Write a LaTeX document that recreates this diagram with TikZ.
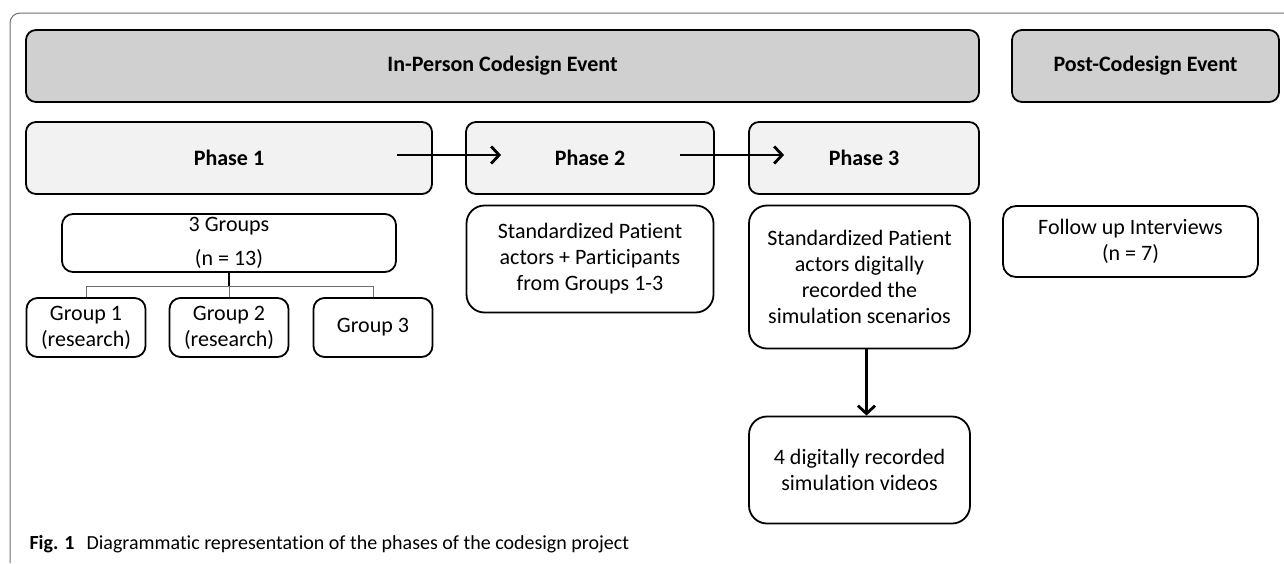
\documentclass[tikz,border=0pt]{standalone}
\usepackage{fontspec}
\setmainfont[Ligatures=NoCommon]{Carlito}
\usepackage{tikz}
\usetikzlibrary{shapes,arrows,arrows.meta,positioning}
\definecolor{eventgrey}{RGB}{208,208,208}
\definecolor{phasegrey}{RGB}{242,242,242}
\definecolor{framegrey}{RGB}{110,110,110}

\begin{document}
\begin{tikzpicture}[x=1pt, y=1pt, >={Straight Barb[length=8pt,width=17pt]},
  font=\fontsize{22}{26}\selectfont,
  eventbox/.style={rectangle, rounded corners=10pt, draw, line width=1.8pt, fill=eventgrey, minimum height=72pt, inner sep=0pt, font=\fontsize{22}{26}\selectfont\bfseries},
  phasebox/.style={rectangle, rounded corners=10pt, draw, line width=1.8pt, fill=phasegrey, minimum height=72pt, inner sep=0pt, font=\fontsize{22}{26}\selectfont\bfseries},
  infobox/.style={rectangle, rounded corners=18pt, draw, line width=1.8pt, fill=white, align=center, inner sep=0pt, minimum width=221pt},
  groupbox/.style={rectangle, rounded corners=11pt, draw, line width=1.8pt, fill=white, align=center, inner sep=0pt, minimum width=119pt, minimum height=59pt}]
\useasboundingbox (0,0) rectangle (1284,-563);
\draw[framegrey, line width=1pt, rounded corners=10pt] (10,-563) -- (10,-13) -- (1284,-13);

% events
\node (inperson) [eventbox, minimum width=953pt] at (502.5,-66) {In-Person Codesign Event};
\node (post) [eventbox, minimum width=267pt, right of=inperson, node distance=643pt] {Post-Codesign Event};

% phases
\node (phase1) [phasebox, minimum width=406pt] at (229,-158) {Phase 1};
\node (phase2) [phasebox, minimum width=248pt, right of=phase1, node distance=361pt] {Phase 2};
\node (phase3) [phasebox, minimum width=230pt, right of=phase2, node distance=274pt] {Phase 3};

% phase 1 groups
\node (groups) [groupbox, minimum width=334pt, minimum height=58pt, below of=phase1, node distance=85pt] {3 Groups\\[8pt](n = 13)};
\node (g2) [groupbox, below of=groups, node distance=84.5pt] {Group 2\\(research)};
\node (g1) [groupbox, left of=g2, node distance=143pt] {Group 1\\(research)};
\node (g3) [groupbox, right of=g2, node distance=144pt] {Group 3};

% phase 2 and 3 details
\node (p2detail) [infobox, minimum width=247pt, minimum height=107pt, below of=phase2, node distance=101pt] {Standardized Patient\\actors + Participants\\from Groups 1-3};
\node (p3detail) [infobox, minimum height=143pt, below of=phase3, node distance=119pt, xshift=-4.5pt] {Standardized Patient\\actors digitally\\recorded the\\simulation scenarios};
\node (videos) [infobox, minimum height=107pt, below of=p3detail, node distance=193pt] {4 digitally recorded\\simulation videos};
\node (follow) [groupbox, minimum width=255pt, minimum height=71pt, rounded corners=13pt] at (1130.5,-241.5) {Follow up Interviews\\(n = 7)};

\node (caption) [anchor=base west, font=\fontsize{20}{24}\selectfont] at (26,-549) {\textbf{Fig. 1}\hspace{0.6em}Diagrammatic representation of the phases of the codesign project};

\draw[->, line width=2.8pt] ([xshift=-36pt,yshift=3pt]phase1.east) -- ([xshift=36pt,yshift=3pt]phase2.west);
\draw[->, line width=2.8pt] ([xshift=-35pt,yshift=3pt]phase2.east) -- ([xshift=36pt,yshift=3pt]phase3.west);
\draw[->, line width=2.8pt] ([xshift=7pt]p3detail.south) -- ([xshift=7pt]videos.north);

\draw[line width=1.6pt] (groups.south) -- ++(0,-14) coordinate (bar);
\draw[framegrey, line width=0.9pt] (g1.north) |- (bar) -| (g3.north);
\draw[framegrey, line width=0.9pt] (bar) -- (g2.north);
\end{tikzpicture}
\end{document}
